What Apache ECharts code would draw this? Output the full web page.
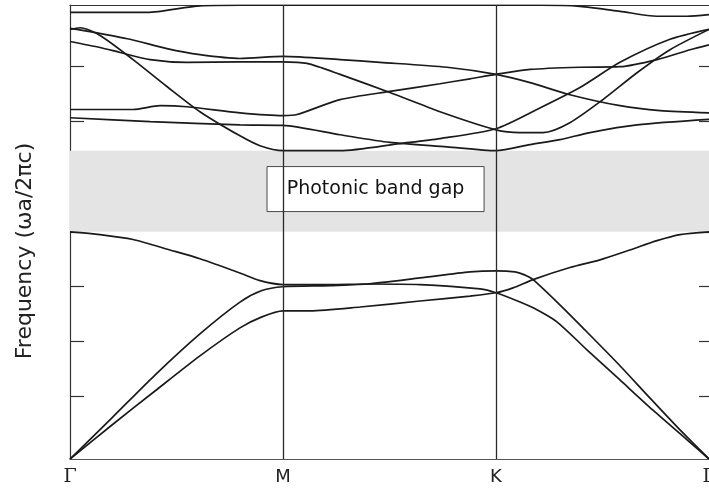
<!DOCTYPE html>
<html>
<head>
<meta charset="utf-8">
<script src="https://cdn.jsdelivr.net/npm/echarts@6/dist/echarts.min.js"></script>
<style>
    html, body { margin: 0; padding: 0; background: #fff; }
    #chart { width: 709px; height: 488px; }
</style>
</head>
<body>
<div id="chart"></div>
<script>
    // k-path: Γ = 0, M = 1, K = 2, Γ = 3
    const kLabels = ['Γ', 'M', 'K', 'Γ']
    const kTicks = [0, 1, 2, 3]
    const freqTicks = [0.115, 0.215, 0.314, 0.414, 0.515, 0.615, 0.715]
    const freqMax = 0.8275
    const gapRange = [0.414, 0.562]
    const gapText = 'Photonic band gap'

    // bands below the gap
    const bandA = [[0, 0], [0.197, 0.062], [0.399, 0.124], [0.610, 0.188], [0.798, 0.239], [0.901, 0.259], [1, 0.270],
        [1.127, 0.270], [1.362, 0.277], [1.643, 0.288], [1.878, 0.297], [2, 0.303],
        [2.080, 0.312], [2.174, 0.327], [2.347, 0.349], [2.488, 0.363], [2.629, 0.381], [2.756, 0.398], [2.864, 0.409], [3, 0.414]]
    const bandB = [[0, 0], [0.197, 0.075], [0.399, 0.153], [0.610, 0.228], [0.798, 0.286], [0.901, 0.307], [1, 0.314],
        [1.221, 0.316], [1.394, 0.319], [1.643, 0.330], [1.878, 0.341], [2, 0.343],
        [2.089, 0.341], [2.131, 0.336], [2.174, 0.327], [2.300, 0.281], [2.441, 0.226], [2.582, 0.170], [2.723, 0.111], [2.864, 0.053], [3, 0]]
    const bandC = [[0, 0.414], [0.141, 0.409], [0.296, 0.400], [0.469, 0.381], [0.610, 0.365], [0.798, 0.339], [0.892, 0.325], [1, 0.318],
        [1.221, 0.318], [1.394, 0.319], [1.643, 0.318], [1.925, 0.310], [2, 0.303],
        [2.113, 0.286], [2.192, 0.272], [2.286, 0.250], [2.427, 0.199], [2.582, 0.144], [2.737, 0.089], [2.897, 0.035], [3, 0]]

    // bands above the gap
    const bandU1 = [[0, 0.814], [0.362, 0.814], [0.610, 0.826], [0.798, 0.827], [1, 0.827], [1.5, 0.827], [2, 0.827],
        [2.207, 0.827], [2.394, 0.825], [2.582, 0.816], [2.756, 0.807], [2.897, 0.807], [3, 0.810]]
    const bandU2 = [[0, 0.783], [0.047, 0.786], [0.141, 0.772], [0.296, 0.728], [0.455, 0.679], [0.610, 0.633], [0.798, 0.589], [0.892, 0.571], [1, 0.562],
        [1.268, 0.562], [1.549, 0.575], [1.737, 0.584], [2, 0.602],
        [2.192, 0.637], [2.394, 0.677], [2.582, 0.723], [2.817, 0.765], [3, 0.783]]
    const bandU3 = [[0, 0.785], [0.094, 0.779], [0.282, 0.765], [0.455, 0.748], [0.610, 0.737], [0.798, 0.730], [1, 0.734],
        [1.268, 0.728], [1.455, 0.723], [1.770, 0.714], [2, 0.701],
        [2.160, 0.686], [2.347, 0.664], [2.582, 0.644], [2.770, 0.635], [3, 0.631]]
    const bandU4 = [[0, 0.761], [0.141, 0.750], [0.235, 0.741], [0.376, 0.728], [0.549, 0.723], [0.798, 0.724], [1, 0.724],
        [1.113, 0.721], [1.268, 0.701], [1.502, 0.668], [1.737, 0.633], [2, 0.600],
        [2.113, 0.595], [2.221, 0.595], [2.347, 0.613], [2.502, 0.655], [2.662, 0.704], [2.817, 0.746], [3, 0.783]]
    const bandU5 = [[0, 0.637], [0.296, 0.637], [0.423, 0.644], [0.549, 0.642], [0.798, 0.631], [1, 0.626],
        [1.066, 0.628], [1.268, 0.655], [1.502, 0.670], [1.737, 0.684], [1.878, 0.693], [2, 0.701],
        [2.160, 0.710], [2.394, 0.714], [2.582, 0.715], [2.756, 0.728], [2.911, 0.746], [3, 0.755]]
    const bandU6 = [[0, 0.622], [0.376, 0.615], [0.798, 0.609], [1, 0.608],
        [1.268, 0.591], [1.502, 0.577], [1.770, 0.569], [2, 0.562],
        [2.160, 0.573], [2.300, 0.582], [2.441, 0.595], [2.662, 0.609], [3, 0.619]]

    const bands = [bandA, bandB, bandC, bandU1, bandU2, bandU3, bandU4, bandU5, bandU6]

    const chart = echarts.init(document.getElementById('chart'))

    const series = bands.map(function (b) {
        return {
            type: 'line',
            data: b,
            smooth: 0.25,
            symbol: 'none',
            silent: true,
            z: 2,
            lineStyle: { color: '#1a1a1a', width: 1.7 }
        }
    })

    // vertical lines at M and K
    series.push({
        type: 'line',
        data: [],
        z: 1,
        silent: true,
        markLine: {
            silent: true,
            symbol: ['none', 'none'],
            label: { show: false },
            lineStyle: { color: '#2a2a2a', width: 1.3, type: 'solid' },
            data: [{ xAxis: kTicks[1] }, { xAxis: kTicks[2] }]
        }
    })

    // the gap
    series.push({
        type: 'line',
        data: [],
        z: 3,
        silent: true,
        markArea: {
            silent: true,
            itemStyle: { color: '#e4e4e4' },
            data: [[{ yAxis: gapRange[0] }, { yAxis: gapRange[1] }]]
        }
    })

    // label box inside the gap
    series.push({
        type: 'line',
        data: [],
        z: 4,
        silent: true,
        markArea: {
            silent: true,
            itemStyle: { color: '#ffffff', borderColor: '#4a4a4a', borderWidth: 1 },
            label: {
                show: true,
                position: 'inside',
                formatter: gapText,
                color: '#111',
                fontFamily: 'DejaVu Sans',
                fontSize: 19
            },
            data: [[{ coord: [0.925, 0.533] }, { coord: [1.944, 0.451] }]]
        }
    })

    chart.setOption({
        animation: false,
        grid: {
            left: 70,
            right: 0,
            top: 5,
            bottom: 29,
            outerBoundsMode: 'none'
        },
        xAxis: [
            {
                type: 'value',
                min: 0,
                max: 3,
                axisLine: { show: true, onZero: false, lineStyle: { color: '#555', width: 1.2 } },
                axisTick: { show: false },
                splitLine: { show: false },
                axisLabel: {
                    customValues: kTicks,
                    showMaxLabel: true,
                    margin: 9,
                    color: '#222',
                    fontFamily: 'DejaVu Sans',
                    fontSize: 18,
                    formatter: function (v) {
                        const s = kLabels[Math.round(v)]
                        return s === 'Γ' ? '{g|Γ}' : s
                    },
                    rich: {
                        g: { fontFamily: 'DejaVu Serif', fontSize: 19, color: '#222' }
                    }
                }
            },
            {
                // top frame line only
                type: 'value',
                position: 'top',
                min: 0,
                max: 3,
                axisLine: { show: true, onZero: false, lineStyle: { color: '#333', width: 1.2 } },
                axisTick: { show: false },
                axisLabel: { show: false },
                splitLine: { show: false }
            }
        ],
        yAxis: [
            {
                type: 'value',
                position: 'left',
                min: 0,
                max: freqMax,
                name: 'Frequency (ωa/2πc)',
                nameLocation: 'middle',
                nameGap: 34,
                nameTextStyle: { color: '#222', fontFamily: 'DejaVu Sans', fontSize: 22, padding: [0, 38, 0, 0] },
                axisLine: { show: true, onZero: false, lineStyle: { color: '#333', width: 1.2 } },
                axisTick: {
                    show: true,
                    inside: true,
                    length: 14,
                    customValues: freqTicks,
                    lineStyle: { color: '#333', width: 1.2 }
                },
                axisLabel: { show: false },
                splitLine: { show: false }
            },
            {
                type: 'value',
                position: 'right',
                min: 0,
                max: freqMax,
                axisLine: { show: false, onZero: false },
                axisTick: {
                    show: true,
                    inside: true,
                    length: 10,
                    customValues: freqTicks,
                    lineStyle: { color: '#333', width: 1.2 }
                },
                axisLabel: { show: false },
                splitLine: { show: false }
            }
        ],
        series: series
    })
</script>
</body>
</html>
